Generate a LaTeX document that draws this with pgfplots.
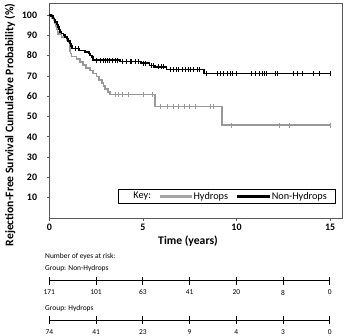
\documentclass[border=0pt]{standalone}
\usepackage{fontspec}
\setmainfont{Carlito}
\usepackage{pgfplots}
\pgfplotsset{compat=1.18}
\definecolor{hgray}{HTML}{999999}
\definecolor{lgray}{HTML}{A6A6A6}
\definecolor{axgray}{HTML}{595959}

\begin{document}
\begin{tikzpicture}[x=1bp,y=1bp]
\begin{axis}[
  at={(0bp,0bp)}, anchor=south west,
  scale only axis, width=293bp, height=215bp,
  xmin=0, xmax=15.65, ymin=0, ymax=105.9,
  xtick={0,5,10,15}, ytick={10,20,...,100},
  tick align=outside, tick pos=left, major tick length=2.7bp,
  axis line style={axgray, line width=0.8bp},
  every tick/.style={axgray, line width=0.6bp},
  /pgf/number format/assume math mode=true,
  ticklabel style={font=\fontsize{10}{12}\selectfont\bfseries},
  yticklabel style={xshift=-6bp},
  xlabel={Time (years)},
  xlabel style={font=\fontsize{11.7}{14}\selectfont\bfseries, at={(axis description cs:0.4734,0)}, anchor=center, yshift=-23bp},
  ylabel={Rejection-Free Survival Cumulative Probability (\%)},
  ylabel style={font=\fontsize{11.7}{14}\selectfont\bfseries, at={(axis description cs:-0.134,0.4326)}, anchor=center},
  legend columns=3,
  legend style={at={(axis cs:3.67,7.1)}, anchor=south west, draw=black, line width=0.8bp, fill=white,
    inner xsep=9bp, inner ysep=2bp, font=\fontsize{10.3}{11}\selectfont,
    nodes={inner xsep=0pt, inner ysep=0.5bp},
    /tikz/every even column/.append style={column sep=7.7bp}},
  clip=false,
]
\addlegendimage{empty legend}\addlegendentry{\hspace{6bp}Key:}
\addlegendimage{legend image code/.code={\draw[lgray, line width=3.3bp] (0bp,0bp) -- (31.6bp,0bp);}}\addlegendentry{Hydrops\hspace{11bp}}
\addlegendimage{legend image code/.code={\draw[black, line width=3.3bp] (0bp,0bp) -- (32.7bp,0bp);}}\addlegendentry{Non-Hydrops}

% Hydrops (gray)
\addplot[const plot, hgray, line width=1.6bp, forget plot] coordinates {
(0,100) (0.15,98.6) (0.25,97.3) (0.3,95.9) (0.35,94.6) (0.4,93.2) (0.44,91.9) (0.48,90.5)
(0.66,89.2) (0.93,87.8) (1.02,86.4) (1.08,85.1) (1.1,83.7) (1.12,82.3) (1.14,81.0) (1.18,79.6)
(1.45,78.2) (1.64,76.8) (1.8,75.5) (1.95,74.0) (2.18,72.6) (2.35,71.1) (2.53,69.6) (2.65,68.1)
(2.8,66.6) (2.9,65.1) (2.98,63.5) (3.15,62.0) (3.25,60.8) (5.65,54.9) (9.22,45.7) (15,45.7)};
\addplot[hgray, only marks, mark=|, mark size=2.3bp, mark options={line width=0.5bp}, forget plot] coordinates {
(3.5,60.8) (3.7,60.8) (3.9,60.8) (4.2,60.8) (5.0,60.8) (5.5,60.8)
(5.9,54.9) (6.3,54.9) (6.6,54.9) (6.9,54.9) (7.2,54.9) (7.5,54.9) (7.8,54.9) (8.6,54.9) (8.75,54.9)
(9.7,45.7) (12.3,45.7) (12.8,45.7) (15,45.7)};

% Non-Hydrops (black)
\addplot[const plot, black, line width=1.6bp, forget plot] coordinates {
(0,100) (0.1,99.4) (0.21,98.2) (0.27,97.4) (0.3,96.5) (0.4,95.3) (0.48,94) (0.53,92.8)
(0.57,91.6) (0.66,90.9) (0.75,90) (0.85,89.2) (0.93,88.4) (1.0,87.2) (1.1,85.9) (1.15,84.6)
(1.2,83.4) (1.6,82.6) (1.9,81.8) (2.09,81) (2.2,80.1) (2.27,79.3) (2.35,77.7) (3.78,77.0)
(4.9,76.2) (5.35,75.2) (5.65,74.5) (6.25,73.1) (8.25,71.1) (15,71.1)};
\addplot[black, only marks, mark=|, mark size=2.3bp, mark options={line width=0.5bp}, forget plot] coordinates {
(1.4,83.4) (1.55,83.4) (2.15,81)
(2.5,77.7) (2.7,77.7) (2.9,77.7) (3.0,77.7) (3.1,77.7) (3.2,77.7) (3.35,77.7) (3.5,77.7) (3.65,77.7)
(3.9,77.0) (4.1,77.0) (4.3,77.0) (4.4,77.0) (4.6,77.0) (4.75,77.0)
(5.0,76.2) (5.1,76.2) (5.45,75.2) (5.55,75.2) (5.8,74.5) (6.0,74.5) (6.1,74.5)
(6.45,73.1) (6.6,73.1) (6.8,73.1) (6.9,73.1) (7.1,73.1) (7.25,73.1) (7.4,73.1) (7.55,73.1) (7.7,73.1) (7.9,73.1) (8.0,73.1)
(8.4,71.1) (8.95,71.1) (9.13,71.1) (9.3,71.1) (9.49,71.1) (9.66,71.1) (9.75,71.1) (10.0,71.1)
(10.8,71.1) (11.0,71.1) (11.2,71.1) (11.36,71.1) (11.5,71.1) (11.6,71.1) (12.07,71.1) (12.16,71.1)
(13.05,71.1) (13.23,71.1) (13.5,71.1) (14.1,71.1) (14.4,71.1) (15,71.1)};
\end{axis}

% Number at risk: Non-Hydrops
\begin{axis}[
  at={(0bp,-62.7bp)}, anchor=south west,
  scale only axis, width=280.5bp, height=10bp,
  xmin=0, xmax=15, ymin=0, ymax=1,
  hide y axis, axis x line*=bottom,
  x axis line style={-, black, line width=0.9bp},
  xtick={0,2.5,5,7.5,10,12.5,15}, xticklabels={171,101,63,41,20,8,0},
  tick align=center, major tick length=8bp,
  every tick/.style={black, line width=0.8bp},
  xticklabel style={font=\fontsize{7.5}{9}\selectfont, anchor=center, yshift=-7.8bp},
  clip=false,
]
\addplot[draw=none] coordinates {(0,0) (15,0)};
\end{axis}

% Number at risk: Hydrops
\begin{axis}[
  at={(0bp,-102bp)}, anchor=south west,
  scale only axis, width=280.5bp, height=10bp,
  xmin=0, xmax=15, ymin=0, ymax=1,
  hide y axis, axis x line*=bottom,
  x axis line style={-, black, line width=0.9bp},
  xtick={0,2.5,5,7.5,10,12.5,15}, xticklabels={74,41,23,9,4,3,0},
  tick align=center, major tick length=8bp,
  every tick/.style={black, line width=0.8bp},
  xticklabel style={font=\fontsize{7.5}{9}\selectfont, anchor=center, yshift=-7.8bp},
  clip=false,
]
\addplot[draw=none] coordinates {(0,0) (15,0)};
\end{axis}

\node[anchor=west, inner sep=0pt, font=\fontsize{7.5}{9}\selectfont] at (-4.3bp,-38.7bp) {Number of eyes at risk:};
\node[anchor=west, inner sep=0pt, font=\fontsize{7.5}{9}\selectfont] at (-4.3bp,-50.3bp) {Group: Non-Hydrops};
\node[anchor=west, inner sep=0pt, font=\fontsize{7.5}{9}\selectfont] at (-4.3bp,-90.3bp) {Group: Hydrops};

\pgfresetboundingbox
\path (-49.3bp,-118bp) rectangle (306.7bp,218bp);
\end{tikzpicture}
\end{document}
